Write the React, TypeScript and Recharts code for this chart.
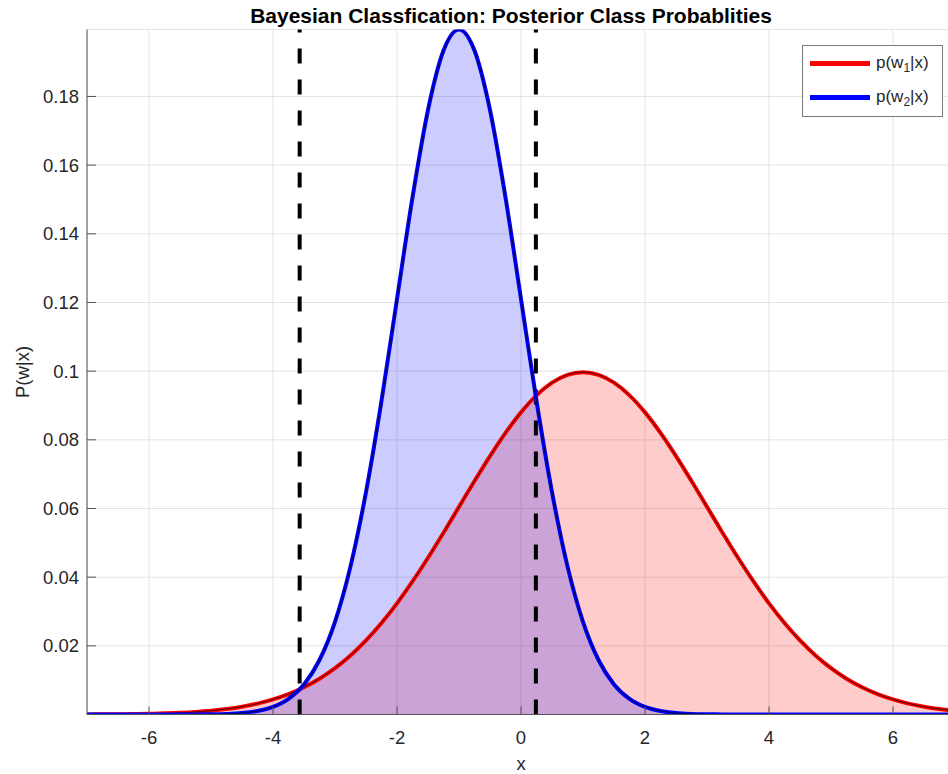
import React from "react";
import {
  Area,
  CartesianGrid,
  ComposedChart,
  Line,
  ReferenceLine,
  XAxis,
  YAxis,
} from "recharts";

// x sample positions (step 0.25)
const xValues = [
  -7, -6.75, -6.5, -6.25, -6, -5.75, -5.5, -5.25, -5, -4.75, -4.5, -4.25, -4,
  -3.75, -3.5, -3.25, -3, -2.75, -2.5, -2.25, -2, -1.75, -1.5, -1.25, -1, -0.75,
  -0.5, -0.25, 0, 0.25, 0.5, 0.75, 1, 1.25, 1.5, 1.75, 2, 2.25, 2.5, 2.75, 3,
  3.25, 3.5, 3.75, 4, 4.25, 4.5, 4.75, 5, 5.25, 5.5, 5.75, 6, 6.25, 6.5, 6.75, 7,
];

// p(w1|x), red
const class1Values = [
  0.0000334, 0.0000547, 0.0000882, 0.00014, 0.000218, 0.000335, 0.000507,
  0.000755, 0.001108, 0.001599, 0.002273, 0.00318, 0.004381, 0.005941, 0.007932,
  0.010427, 0.013493, 0.017189, 0.021562, 0.02663, 0.032368, 0.03874, 0.045646,
  0.052951, 0.060471, 0.067989, 0.075258, 0.082011, 0.087985, 0.09293, 0.096632,
  0.098924, 0.0997, 0.098924, 0.096632, 0.09293, 0.087985, 0.082011, 0.075258,
  0.067989, 0.060471, 0.052951, 0.045646, 0.03874, 0.032368, 0.02663, 0.021562,
  0.017189, 0.013493, 0.010427, 0.007932, 0.005941, 0.004381, 0.00318, 0.002273,
  0.001599, 0.001108,
];

// p(w2|x), blue
const class2Values = [
  0, 0, 0.0000001, 0.0000002, 0.0000007, 0.0000025, 0.000008, 0.000024,
  0.000067, 0.000176, 0.000436, 0.001015, 0.002216, 0.004549, 0.008766,
  0.015872, 0.027, 0.043146, 0.064768, 0.091337, 0.121003, 0.150591, 0.176059,
  0.193361, 0.1995, 0.193361, 0.176059, 0.150591, 0.121003, 0.091337, 0.064768,
  0.043146, 0.027, 0.015872, 0.008766, 0.004549, 0.002216, 0.001015, 0.000436,
  0.000176, 0.000067, 0.000024, 0.000008, 0.0000025, 0.0000007, 0.0000002,
  0.0000001, 0, 0, 0, 0, 0, 0, 0, 0, 0, 0,
];

// decision boundaries (dashed)
const boundaries = [-3.57, 0.24];

const xTicks = [-6, -4, -2, 0, 2, 4, 6];
const yTicks = [0.02, 0.04, 0.06, 0.08, 0.1, 0.12, 0.14, 0.16, 0.18];

const chartData = xValues.map((x, i) => ({
  x,
  w1: class1Values[i],
  w2: class2Values[i],
}));

const FONT = '"Liberation Sans", Arial, Helvetica, sans-serif';
const TEXT = "#262626";

const XTick = (props: any) => {
  const { x, y, payload } = props;
  return (
    <g>
      <line x1={x} x2={x} y1={y} y2={y - 8} stroke="#555" strokeWidth={1} />
      <text x={x} y={y + 29} textAnchor="middle" fontSize={18.5} fill={TEXT} fontFamily={FONT}>
        {payload.value}
      </text>
    </g>
  );
};

const YTick = (props: any) => {
  const { x, y, payload } = props;
  return (
    <g>
      <line x1={x} x2={x + 9} y1={y} y2={y} stroke="#555" strokeWidth={1} />
      <text x={x - 8} y={y + 6.5} textAnchor="end" fontSize={18.5} fill={TEXT} fontFamily={FONT}>
        {payload.value}
      </text>
    </g>
  );
};

const legendItems = [
  { color: "#ff0000", sub: "1", top: 18 },
  { color: "#0000ff", sub: "2", top: 52 },
];

const LegendBox = () => (
  <div
    style={{
      position: "absolute",
      left: 802,
      top: 45,
      width: 141,
      height: 72,
      boxSizing: "border-box",
      border: "1.5px solid #7a7a7a",
      background: "#fff",
      fontFamily: FONT,
      fontSize: 17,
      color: TEXT,
      zIndex: 3,
    }}
  >
    {legendItems.map((item) => (
      <div
        key={item.sub}
        style={{
          position: "absolute",
          left: 7,
          top: item.top - 11,
          height: 20,
          display: "flex",
          alignItems: "center",
        }}
      >
        <div style={{ width: 60, height: 5, background: item.color }} />
        <span style={{ marginLeft: 6, whiteSpace: "nowrap", lineHeight: "20px" }}>
          p(w<sub style={{ fontSize: 12, verticalAlign: -4, lineHeight: 0 }}>{item.sub}</sub>|x)
        </span>
      </div>
    ))}
  </div>
);

export default function App() {
  return (
    <div
      style={{
        position: "absolute",
        left: 0,
        top: 0,
        width: 948,
        height: 774,
        overflow: "hidden",
        background: "#fff",
      }}
    >
      <div
        style={{
          position: "absolute",
          left: 0,
          width: 1022,
          top: 4,
          textAlign: "center",
          fontFamily: FONT,
          fontWeight: "bold",
          fontSize: 21,
          color: "#000",
          zIndex: 2,
        }}
      >
        Bayesian Classfication: Posterior Class Probablities
      </div>
      <ComposedChart
        width={960}
        height={774}
        data={chartData}
        margin={{ top: 29.5, right: 5, left: 0, bottom: 0 }}
      >
        <CartesianGrid stroke="#e3e3e3" strokeWidth={1} />
        <XAxis
          dataKey="x"
          type="number"
          domain={[-7, 7]}
          ticks={xTicks}
          height={59.5}
          tickSize={0}
          tickMargin={0}
          tick={<XTick />}
          stroke="#555"
          allowDataOverflow
          label={{
            value: "x",
            position: "insideBottom",
            offset: 4,
            fontSize: 18.5,
            fill: TEXT,
            fontFamily: FONT,
          }}
        />
        <YAxis
          type="number"
          domain={[0, 0.1995]}
          ticks={yTicks}
          width={87}
          tickSize={0}
          tickMargin={0}
          tick={<YTick />}
          stroke="#555"
          allowDataOverflow
          label={{
            content: () => (
              <text
                x={22}
                y={372}
                transform="rotate(-90 22 372)"
                textAnchor="middle"
                dominantBaseline="central"
                fontSize={18.5}
                fill={TEXT}
                fontFamily={FONT}
              >
                P(w|x)
              </text>
            ),
          }}
        />
        <Area
          type="monotone"
          dataKey="w1"
          stroke="none"
          fill="#ff0000"
          fillOpacity={0.2}
          isAnimationActive={false}
        />
        <Area
          type="monotone"
          dataKey="w2"
          stroke="none"
          fill="#0000ff"
          fillOpacity={0.2}
          isAnimationActive={false}
        />
        {boundaries.map((b) => (
          <ReferenceLine
            key={b}
            x={b}
            stroke="#000"
            strokeWidth={4}
            strokeDasharray="15 16"
          />
        ))}
        <Line type="monotone" dataKey="w1" stroke="#ff0000" strokeWidth={4} dot={false} isAnimationActive={false} />
        <Line type="monotone" dataKey="w1" stroke="#000" strokeOpacity={0.7} strokeWidth={1} dot={false} isAnimationActive={false} />
        <Line type="monotone" dataKey="w2" stroke="#0000ff" strokeWidth={4} dot={false} isAnimationActive={false} />
        <Line type="monotone" dataKey="w2" stroke="#000" strokeOpacity={0.7} strokeWidth={1} dot={false} isAnimationActive={false} />
      </ComposedChart>
      <LegendBox />
    </div>
  );
}
